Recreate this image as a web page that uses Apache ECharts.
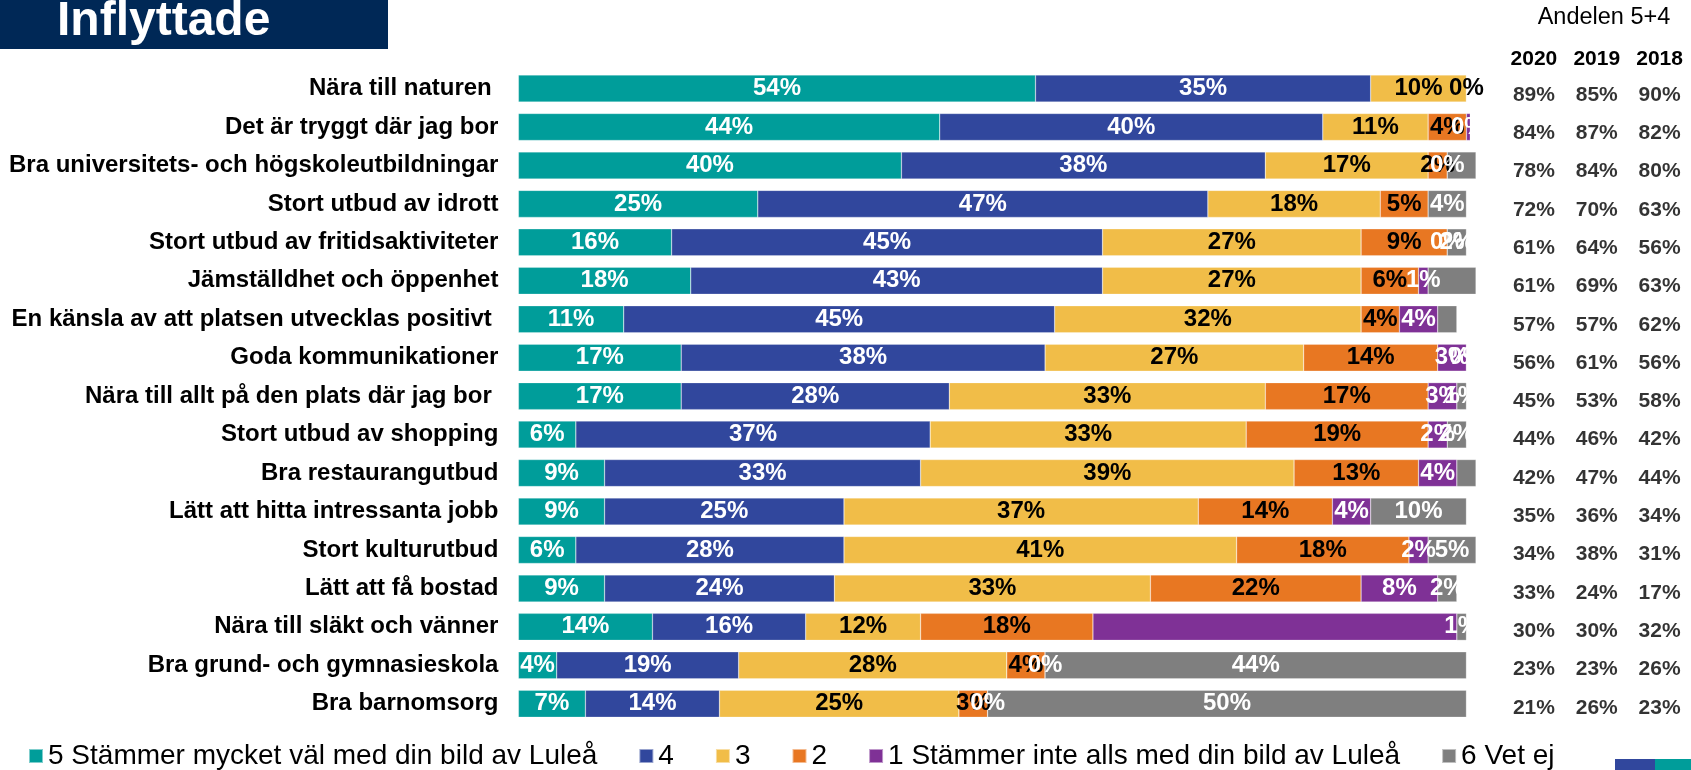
<!DOCTYPE html>
<html>
<head>
<meta charset="utf-8">
<title>Inflyttade</title>
<script src="https://cdn.jsdelivr.net/npm/echarts@6/dist/echarts.min.js"></script>
<style>
	html, body { margin: 0; padding: 0; background: #fff; }
	#myChart { width: 1691px; height: 770px; }
</style>
</head>
<body>
<div id="myChart"></div>
<script>
	// påståenden, uppifrån och ned
	var categories = [
		'Nära till naturen ',
		'Det är tryggt där jag bor',
		'Bra universitets- och högskoleutbildningar',
		'Stort utbud av idrott',
		'Stort utbud av fritidsaktiviteter',
		'Jämställdhet och öppenhet',
		'En känsla av att platsen utvecklas positivt ',
		'Goda kommunikationer',
		'Nära till allt på den plats där jag bor ',
		'Stort utbud av shopping',
		'Bra restaurangutbud',
		'Lätt att hitta intressanta jobb',
		'Stort kulturutbud',
		'Lätt att få bostad',
		'Nära till släkt och vänner',
		'Bra grund- och gymnasieskola',
		'Bra barnomsorg'
	];

	var seriesNames = [
		'5 Stämmer mycket väl med din bild av Luleå',
		'4',
		'3',
		'2',
		'1 Stämmer inte alls med din bild av Luleå',
		'6 Vet ej'
	];

	// andel svar i procent, '-' = ingen stapel
	var val5 = [54, 44, 40, 25, 16, 18, 11, 17, 17, 6, 9, 9, 6, 9, 14, 4, 7];
	var val4 = [35, 40, 38, 47, 45, 43, 45, 38, 28, 37, 33, 25, 28, 24, 16, 19, 14];
	var val3 = [10, 11, 17, 18, 27, 27, 32, 27, 33, 33, 39, 37, 41, 33, 12, 28, 25];
	var val2 = [0, 4, 2, 5, 9, 6, 4, 14, 17, 19, 13, 14, 18, 22, 18, 4, 3];
	var val1 = ['-', 0.4, 0, '-', 0, 1, 4, 3, 3, 2, 4, 4, 2, 8, 38, 0, 0];
	var val6 = ['-', '-', 3, 4, 2, 5, 2, 0, 1, 2, 2, 10, 5, 2, 1, 44, 50];

	// rader där etiketten saknas i originalet
	var hiddenLabels1 = [14];
	var hiddenLabels6 = [2, 5, 6, 10];

	// Andelen 5+4
	var years = ['2020', '2019', '2018'];
	var share2020 = [89, 84, 78, 72, 61, 61, 57, 56, 45, 44, 42, 35, 34, 33, 30, 23, 21];
	var share2019 = [85, 87, 84, 70, 64, 69, 57, 61, 53, 46, 47, 36, 38, 24, 30, 23, 26];
	var share2018 = [90, 82, 80, 63, 56, 63, 62, 56, 58, 42, 44, 34, 31, 17, 32, 26, 23];

	var colors = ['#009D9A', '#31479D', '#F1BD48', '#E87722', '#7F3196', '#7F7F7F'];
	var labelColors = ['#fff', '#fff', '#000', '#000', '#fff', '#fff'];
	var FONT = "'Liberation Sans', Arial, sans-serif";

	function buildData(values, hidden) {
		return values.map(function (v, i) {
			if (hidden && hidden.indexOf(i) >= 0) {
				return { value: v, label: { show: false } };
			}
			return v;
		});
	}

	var allValues = [val5, val4, val3, val2, val1, val6];
	var hiddenList = [null, null, null, null, hiddenLabels1, hiddenLabels6];

	var series = allValues.map(function (vals, k) {
		return {
			name: seriesNames[k],
			type: 'bar',
			stack: 'total',
			xAxisIndex: 0,
			yAxisIndex: 0,
			barWidth: 27,
			data: buildData(vals, hiddenList[k]),
			itemStyle: { color: colors[k], borderColor: 'rgba(255,255,255,0.5)', borderWidth: 0.5 },
			label: {
				show: true,
				position: 'inside',
				color: labelColors[k],
				fontFamily: FONT,
				fontWeight: 'bold',
				fontSize: 24,
				formatter: function (p) { return Math.round(p.value) + '%'; }
			},
			silent: true
		};
	});

	// tabellen till höger: en osynlig scatter i eget grid
	var shareCols = [share2020, share2019, share2018];
	var tableData = [];
	shareCols.forEach(function (col, c) {
		col.forEach(function (v, r) { tableData.push([c, r, v]); });
	});
	series.push({
		type: 'scatter',
		xAxisIndex: 1,
		yAxisIndex: 1,
		symbolSize: 1,
		itemStyle: { color: 'rgba(0,0,0,0)' },
		data: tableData,
		label: {
			show: true,
			position: 'inside',
			color: '#000',
			fontFamily: FONT,
			fontWeight: 'bold',
			fontSize: 21,
			formatter: function (p) { return p.data[2] + '%'; }
		},
		silent: true
	});

	var option = {
		animation: false,
		backgroundColor: '#fff',
		color: colors,
		textStyle: { fontFamily: FONT },
		grid: [
			{ left: 518.4, width: 957.6, top: 69.3, height: 653.7 },
			{ left: 1502.5, width: 196, top: 75.8, height: 651.1 }
		],
		xAxis: [
			{ gridIndex: 0, type: 'value', min: 0, max: 100, show: false },
			{
				gridIndex: 1, type: 'category', data: years, position: 'top',
				axisLine: { show: false }, axisTick: { show: false }, splitLine: { show: false },
				axisLabel: {
					color: '#000', fontFamily: FONT, fontWeight: 'bold', fontSize: 21,
					verticalAlign: 'middle', margin: 17
				}
			}
		],
		yAxis: [
			{
				gridIndex: 0, type: 'category', data: categories, inverse: true,
				axisLine: { show: false }, axisTick: { show: false }, splitLine: { show: false },
				axisLabel: {
					color: '#000', fontFamily: FONT, fontWeight: 'bold', fontSize: 24,
					margin: 20, interval: 0
				}
			},
			{ gridIndex: 1, type: 'category', data: categories, inverse: true, show: false }
		],
		legend: {
			data: seriesNames,
			left: 28,
			top: 742,
			padding: 0,
			itemGap: 41,
			itemWidth: 14,
			itemHeight: 14,
			icon: 'rect',
			selectedMode: false,
			textStyle: { color: '#000', fontFamily: FONT, fontSize: 28 }
		},
		graphic: [
			// rubrikruta
			{ type: 'rect', left: 0, top: 0, shape: { width: 388, height: 49 }, style: { fill: '#002856' } },
			{
				type: 'text', x: 57, y: 22,
				style: { text: 'Inflyttade', fill: '#fff', font: 'bold 48px ' + FONT, verticalAlign: 'middle' }
			},
			{
				type: 'text', x: 1604, y: 18,
				style: { text: 'Andelen 5+4', fill: '#000', font: '23.5px ' + FONT, align: 'center', verticalAlign: 'middle' }
			},
			// avklippt logga nere till höger
			{ type: 'rect', left: 1615, top: 759, shape: { width: 40, height: 11 }, style: { fill: '#31479D' } },
			{ type: 'rect', left: 1655, top: 759, shape: { width: 36, height: 11 }, style: { fill: '#009D9A' } }
		],
		series: series
	};

	var myChart = echarts.init(document.getElementById('myChart'));
	myChart.setOption(option);
</script>
</body>
</html>
